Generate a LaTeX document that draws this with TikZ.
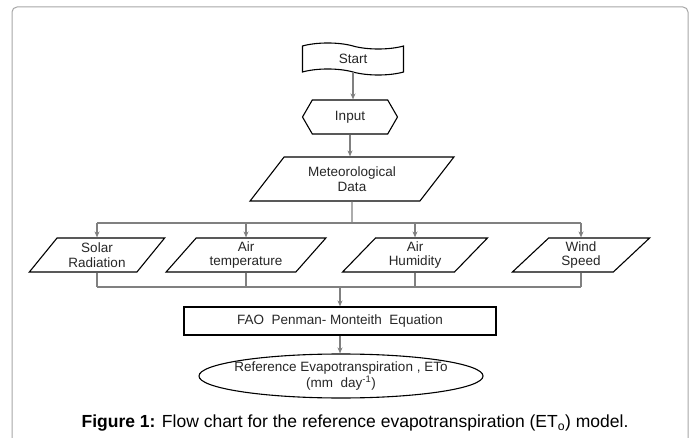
\documentclass[tikz,border=0pt]{standalone}
\usepackage{fontspec}
\setmainfont{Liberation Sans}
\usetikzlibrary{shapes.geometric,shapes.symbols,arrows.meta}
\begin{document}
\begin{tikzpicture}[x=1pt,y=-1pt,
  box/.style={draw=black, line width=1.1pt, align=center, inner sep=0pt,
    text=black!85, font=\fontsize{13.5}{14.5}\selectfont},
  para/.style={box, trapezium, trapezium stretches=true,
    trapezium left angle=51, trapezium right angle=129},
  conn/.style={draw=black!50, line width=1.1pt},
  arr/.style={conn, -{Stealth[length=6pt,width=5pt,open]}},
  frame/.style={draw=black!35, line width=1pt, rounded corners=5pt}
]
\useasboundingbox (0,0) rectangle (693,438);
\draw[frame] (12,438) -- (12,7) -- (688,7) -- (688,438);

% nodes
\node[box, tape, tape bend top=out and in, tape bend bottom=out and in,
      tape bend height=6pt, minimum width=101, minimum height=32] (start) at (353,59) {Start};
\node[box, signal, signal to=east and west, signal pointer angle=120,
      minimum width=95, minimum height=34] (input) at (350,117) {Input};
\node[para, trapezium left angle=48, trapezium right angle=132,
      minimum width=204, minimum height=44] (met) at (352,179) {Meteorological\\Data};

\node[para, minimum width=136, minimum height=34] (solar) at (97,255) {Solar\\Radiation};
\node[para, minimum width=160, minimum height=34] (temp) at (246,255) {Air\\temperature};
\node[para, minimum width=146, minimum height=34] (hum) at (415,255) {Air\\Humidity};
\node[para, minimum width=138, minimum height=34] (wind) at (581,255) {Wind\\Speed};

\node[box, minimum width=312, minimum height=28] (fao) at (340,321) {FAO\ \ Penman- Monteith\ \ Equation};
\node[box, ellipse, minimum width=284, minimum height=44] (ref) at (341,376) {};
\node[align=center, inner sep=0pt, text=black!85, font=\fontsize{13.5}{14.5}\selectfont] (reftext) at (ref.center)
  {Reference Evapotranspiration , ETo\\(mm\ \ day\textsuperscript{-1})};

\node[inner sep=0pt, font=\fontsize{17.5}{20}\selectfont] (cap) at (355,423)
  {\textbf{Figure 1:} Flow chart for the reference evapotranspiration (ET\textsubscript{o}) model.};

% bus coordinates
\coordinate (b1) at (352,223);
\coordinate (b2) at (340,287);

% connectors
\draw[arr] (start.south) -- (start.south |- input.north);
\draw[arr] (input.south) -- (input.south |- met.north);
\draw[conn] (met.south) -- (b1);
\draw[conn] (solar.north |- b1) -- (wind.north |- b1);
\foreach \p in {solar,temp,hum,wind}{
  \draw[arr] (\p.north |- b1) -- (\p.north);
  \draw[conn] (\p.south) -- (\p.south |- b2);
}
\draw[conn] (solar.south |- b2) -- (wind.south |- b2);
\draw[arr] (b2) -- (fao.north);
\draw[arr] (fao.south) -- (fao.south |- ref.north);
\end{tikzpicture}
\end{document}
